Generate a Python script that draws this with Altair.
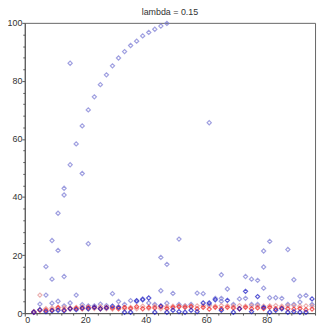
import altair as alt
import pandas as pd

# x positions shared by the low series (odd integers)
x_odd = [3, 5, 7, 9, 11, 13, 15, 17, 19, 21, 23, 25, 27, 29, 31, 33, 35, 37, 39, 41,
         43, 45, 47, 49, 51, 53, 55, 57, 59, 61, 63, 65, 67, 69, 71, 73, 75, 77, 79, 81,
         83, 85, 87, 89, 91, 93, 95]

red_y = [0.3, 1.0, 1.0, 1.1, 2.0, 1.1, 1.5, 1.6, 1.5, 2.0, 2.0, 1.5, 2.0, 1.8, 1.5, 2.0,
         1.6, 2.2, 1.5, 2.0, 1.8, 2.2, 1.6, 2.0, 2.2, 2.0, 2.2, 1.5, 2.0, 1.4, 2.0, 1.5,
         2.0, 1.8, 1.5, 2.0, 1.5, 1.8, 1.6, 2.0, 1.5, 1.8, 1.5, 1.4, 1.6, 1.2, 1.4]

pink_y = [0.5, 6.2, 1.5, 1.8, 1.5, 2.0, 1.8, 2.0, 2.2, 1.5, 1.6, 2.2, 1.5, 1.4, 2.2, 1.5,
          2.0, 1.5, 2.4, 1.6, 2.4, 1.5, 2.3, 2.4, 2.5, 2.4, 2.5, 2.5, 2.6, 2.5, 2.4, 2.6,
          2.5, 2.4, 2.6, 2.4, 2.5, 2.5, 2.4, 2.5, 2.6, 2.4, 2.5, 2.6, 2.4, 2.5, 2.4]

dark_y = [0.3, 1.2, 0.5, 0.8, 1.0, 0.8, 1.5, 1.2, 1.8, 1.5, 2.0, 1.5, 1.8, 2.4, 2.0, 0.3,
          0.3, 4.3, 4.6, 5.2, 0.3, 2.5, 0.3, 1.0, 0.5, 0.3, 1.0, 0.5, 3.5, 3.5, 4.6, 1.0,
          4.4, 0.3, 1.5, 7.5, 0.5, 5.7, 2.0, 0.3, 1.0, 1.5, 0.3, 0.5, 0.3, 0.3, 4.9]

light_low_y = [0.5, 3.1, 6.2, 3.4, 4.1, 2.5, 3.5, 6.2, 2.9, 2.5, 2.5, 3.1, 2.6, 6.7, 4.0,
               3.0, 4.3, 4.0, 4.9, 3.5, 3.0, 7.7, 3.4, 6.8, 3.0, 2.5, 3.0, 6.9, 6.7, 3.0,
               5.1, 5.1, 8.3, 3.0, 4.9, 5.1, 3.0, 3.0, 8.6, 5.3, 5.3, 5.1, 3.0, 3.0, 5.8,
               6.1, 3.0]

curve_x = [7, 9, 11, 13, 15, 17, 19, 21, 23, 25, 27, 29, 31, 33, 35, 37, 39, 41, 43, 45, 47]
curve_y = [16.0, 25.0, 34.4, 43.0, 51.1, 58.3, 64.5, 70.0, 74.5, 78.7, 82.1, 85.2, 87.9,
           90.1, 92.2, 93.7, 95.5, 96.7, 97.8, 98.9, 99.8]

out_x = [9, 11, 13, 13, 15, 19, 21, 45, 47, 51, 61, 65, 65, 73, 75, 77, 79, 79, 81, 87, 89, 91]
out_y = [11.7, 21.6, 40.7, 12.6, 86.1, 48.1, 23.9, 19.2, 16.8, 25.5, 65.6, 13.2, 4.1, 12.6,
         11.7, 11.3, 21.4, 15.9, 24.7, 21.9, 11.5, 3.8]

rows = []
for x, y in zip(curve_x, curve_y):
    rows.append({"x": x, "y": y, "s": "light"})
for x, y in zip(out_x, out_y):
    rows.append({"x": x, "y": y, "s": "light"})
for x, y in zip(x_odd, light_low_y):
    rows.append({"x": x, "y": y, "s": "light"})
for x, y in zip(x_odd, pink_y):
    rows.append({"x": x, "y": y, "s": "pink"})
for x, y in zip(x_odd, red_y):
    rows.append({"x": x, "y": y, "s": "red"})
for x, y in zip(x_odd, dark_y):
    rows.append({"x": x, "y": y, "s": "dark"})
df = pd.DataFrame(rows)

tick_cond = {"condition": {"test": "datum.value % 20 === 0", "value": 3}, "value": 2}
lab = "datum.value % 20 === 0 ? datum.label : ''"

chart = alt.Chart(df).mark_point(shape="diamond", filled=False, size=18, strokeWidth=1.2).encode(
    x=alt.X("x:Q", scale=alt.Scale(domain=[0, 96], nice=False, zero=False),
            axis=alt.Axis(values=list(range(0, 97, 4)), labelExpr=lab, tickSize=tick_cond,
                          grid=False, title=None, labelFontSize=9, labelPadding=0,
                          labelFont="Liberation Sans", labelColor="#333",
                          domainColor="#555", tickColor="#555")),
    y=alt.Y("y:Q", scale=alt.Scale(domain=[0, 100], nice=False),
            axis=alt.Axis(values=list(range(0, 101, 4)), labelExpr=lab, tickSize=tick_cond,
                          grid=False, title=None, labelFontSize=9, labelPadding=0,
                          labelFont="Liberation Sans", labelColor="#333",
                          domainColor="#555", tickColor="#555")),
    color=alt.Color("s:N", scale=alt.Scale(domain=["light", "pink", "red", "dark"],
                                           range=["#7878d4", "#e49090", "#ee2020", "#1414c4"]),
                    legend=None),
).properties(
    width=294, height=294,
    title=alt.TitleParams("lambda = 0.15", fontSize=9, font="Liberation Sans",
                          fontWeight="normal", color="#333", offset=2),
    autosize=alt.AutoSizeParams(type="none"),
    padding={"left": 17, "top": 13, "right": 4, "bottom": 11},
).configure_view(stroke="#666", strokeWidth=1)

chart.save("out.html", embed_options={"renderer": "svg", "actions": False})
